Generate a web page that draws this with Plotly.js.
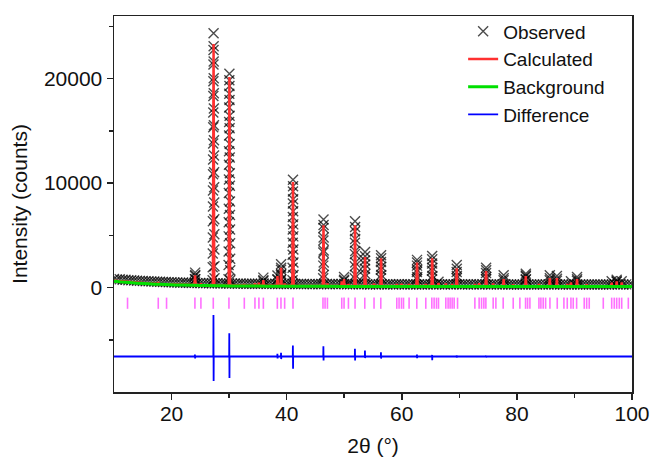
<!DOCTYPE html>
<html>
<head>
<meta charset="utf-8">
<script src="https://cdn.plot.ly/plotly-3.0.1.min.js"></script>
<style>html,body{margin:0;padding:0;background:#fff;}#chart{width:651px;height:457px;}</style>
</head>
<body>
<div id="chart"></div>
<script>
// ---- Observed: baseline points (2θ, counts)
const obsBase2Theta = [10,10.5,11,11.5,12,12.5,13,13.5,14,14.5,15,15.5,16,16.5,17,17.5,18,18.5,19,19.5,20,20.5,21,21.5,22,22.5,23,23.5,24,24.5,25,25.5,26,26.5,27,27.5,28,28.5,29,29.5,30,30.5,31,31.5,32,32.5,33,33.5,34,34.5,35,35.5,36,36.5,37,37.5,38,38.5,39,39.5,40,40.5,41,41.5,42,42.5,43,43.5,44,44.5,45,45.5,46,46.5,47,47.5,48,48.5,49,49.5,50,50.5,51,51.5,52,52.5,53,53.5,54,54.5,55,55.5,56,56.5,57,57.5,58,58.5,59,59.5,60,60.5,61,61.5,62,62.5,63,63.5,64,64.5,65,65.5,66,66.5,67,67.5,68,68.5,69,69.5,70,70.5,71,71.5,72,72.5,73,73.5,74,74.5,75,75.5,76,76.5,77,77.5,78,78.5,79,79.5,80,80.5,81,81.5,82,82.5,83,83.5,84,84.5,85,85.5,86,86.5,87,87.5,88,88.5,89,89.5,90,90.5,91,91.5,92,92.5,93,93.5,94,94.5,95,95.5,96,96.5,97,97.5,98,98.5,99,99.5,100];
const obsBaseCounts = [820,770,800,745,745,705,705,680,660,640,
630,605,600,575,570,555,550,525,525,510,
505,490,495,465,480,450,460,440,450,425,
445,415,425,405,415,400,410,390,405,385,
395,385,390,370,390,365,375,360,370,360,
367,355,385,345,355,345,355,350,375,340,
350,330,355,335,343,330,340,328,337,325,
335,322,333,330,340,315,333,312,330,330,
340,310,327,308,330,308,320,315,321,302,
320,302,320,310,315,302,313,300,325,315,
325,302,323,298,311,302,313,295,313,294,
315,302,311,305,310,302,313,295,317,310,
307,290,308,289,306,295,313,300,310,305,
310,290,313,288,305,298,307,286,303,290,
301,290,303,298,305,286,299,288,305,292,
305,298,310,292,313,286,299,288,301,302,
305,298,300,282,297,283,296,284,295,283,
298,282,295,284,310,298,317,295,305,282,
296];
// ---- Observed: points on the Bragg peaks
const obsPeak2Theta = [24.06,24.08,24.10,24.12,24.14,
27.14,27.15,27.16,27.17,27.18,27.19,27.20,27.21,27.22,27.23,27.24,27.25,27.26,27.27,27.28,27.29,27.30,27.31,27.32,27.33,27.34,27.35,27.36,27.37,27.38,27.39,27.40,27.41,27.42,27.43,27.44,27.45,27.46,
29.90,29.91,29.92,29.93,29.94,29.95,29.96,29.97,29.98,29.99,30.00,30.01,30.02,30.03,30.04,30.05,30.06,30.07,30.08,30.09,30.10,30.11,30.12,30.13,30.14,30.15,30.16,30.17,30.18,30.19,30.20,
35.94,35.95,35.96,38.39,38.40,38.41,39.00,39.01,39.02,39.03,39.04,39.05,39.06,
41.02,41.03,41.04,41.05,41.06,41.07,41.08,41.09,41.10,41.11,41.12,41.13,41.14,41.15,41.16,41.17,41.18,
46.35,46.36,46.37,46.38,46.39,46.40,46.41,46.42,46.43,46.44,46.45,
49.96,49.97,49.98,
51.83,51.84,51.85,51.86,51.87,51.88,51.89,51.90,51.91,51.92,51.93,
53.59,53.60,53.61,53.62,53.63,53.64,53.65,
56.37,56.38,56.39,56.40,56.41,56.42,56.43,
62.62,62.63,62.64,62.65,62.66,62.67,62.68,
65.25,65.26,65.27,65.28,65.29,65.30,65.31,66.38,
69.53,69.54,69.55,69.56,69.57,
74.63,74.64,74.65,74.66,74.67,
77.69,77.70,77.71,
81.53,81.54,81.55,81.56,81.57,
85.71,85.72,85.73,86.94,86.95,86.96,89.39,
90.44,90.45,90.46,96.47,97.33,97.34,97.35,98.21];
const obsPeakCounts = [800,1100,1430,1200,800,
700,1950,3250,4800,6350,7750,9300,10850,12250,13800,15350,16750,18350,19750,21350,22750,24350,23100,21650,20050,18600,17150,15550,14100,12650,11050,9600,8150,6550,5100,3650,2050,900,
800,2150,3450,4900,6250,7550,9050,10350,11750,13050,14550,15850,17250,18550,19850,20480,19300,17950,16450,15250,13750,12450,10950,9750,8250,6950,5550,4250,2750,1650,700,
600,950,700,750,1150,800,700,1200,1700,2230,1900,1300,800,
700,1900,3150,4300,5550,6750,8050,9200,10320,9700,8450,7300,6050,4900,3650,2400,1200,
900,2100,3350,4500,5700,6510,6000,4800,3550,2400,1200,
650,1020,750,
900,2050,3200,4300,5400,6350,5800,4650,3500,2400,1200,
1000,1800,2600,3400,3000,2200,1300,
900,1700,2450,3100,2800,2000,1200,
800,1500,2100,2650,2400,1700,1000,
800,1600,2300,3020,2700,1900,1100,550,
900,1500,2150,1800,1100,
800,1400,1900,1650,1000,
700,1180,900,
750,1050,1330,1150,800,
700,1180,900,650,1100,850,600,
650,1020,800,600,550,750,600,600];
// ---- Calculated profile
const calc2Theta = [10,12,14,16,17.6,17.69,17.78,20,22,23.97,24.08,24.19,25.02,25.10,25.18,27.18,27.30,27.42,29.93,30.05,30.17,32.56,32.64,32.72,34.41,34.49,34.57,35.10,35.18,35.26,35.86,35.95,36.04,38.30,38.40,38.50,38.93,39.03,39.13,39.57,39.65,39.73,40.98,41.10,41.22,46.28,46.40,46.52,47.00,47.08,47.16,49.48,49.57,49.66,49.88,49.97,50.06,50.65,50.73,50.81,51.77,51.88,51.99,53.51,53.62,53.73,55.10,55.18,55.26,56.29,56.40,56.51,59.05,59.13,59.21,59.87,59.95,60.03,61.19,61.27,61.35,62.54,62.65,62.76,64.09,64.17,64.25,65.17,65.28,65.39,66.30,66.38,66.46,67.57,67.65,67.73,68.67,68.75,68.83,69.45,69.55,69.65,72.62,72.70,72.78,73.36,73.44,73.52,74.55,74.65,74.75,75.80,75.88,75.96,77.61,77.70,77.79,79.28,79.36,79.44,81.46,81.55,81.64,83.75,83.83,83.91,85.64,85.72,85.80,86.87,86.95,87.03,88.67,88.75,88.83,89.31,89.39,89.47,90.37,90.45,90.53,92.04,92.12,92.20,96.39,96.47,96.55,97.26,97.34,97.42,98.13,98.21,98.29,100];
const calcCounts = [640,540,460,395,355,520,352,305,275,250,1180,249,240,400,239,220,23330,219,200,20160,200,190,330,189,183,420,183,181,460,180,178,700,178,172,1100,171,170,1900,169,168,400,168,166,10100,165,158,5970,157,156,380,156,153,600,153,152,800,152,151,350,151,150,5970,150,148,2920,148,146,400,146,145,2800,145,143,330,143,142,360,142,141,330,141,140,2400,140,139,330,139,138,2800,138,137,450,137,136,380,136,136,350,136,135,1850,135,133,330,133,133,420,133,132,1590,132,131,380,131,130,800,130,129,300,129,128,1110,128,127,330,127,126,900,126,125,900,125,124,330,124,124,500,124,123,800,123,122,300,122,121,480,121,120,600,120,120,500,120,120];
// ---- Background
const bg2Theta = [10,12,14,16,18,20,22,25,28,30,35,40,50,60,80,100];
const bgCounts = [600,500,420,355,305,265,235,200,175,160,140,125,110,100,95,90];
// ---- Difference (offset)
const diff2Theta = [10,24.03,24.06,24.10,24.13,27.26,27.28,27.31,27.33,30.01,30.03,30.06,30.08,38.37,38.39,38.42,38.44,39.00,39.02,39.05,39.07,41.06,41.08,41.11,41.13,46.36,46.38,46.41,46.43,51.84,51.86,51.89,51.91,53.58,53.60,53.63,53.65,56.36,56.38,56.41,56.43,62.62,62.64,62.66,62.68,65.25,65.27,65.29,65.31,69.52,69.54,69.56,69.58,74.62,74.64,74.66,74.68,81.52,81.54,81.56,81.58,100];
const diffCounts = [-6600,-6600,-6420,-6780,-6600,-6600,-2630,-8950,-6600,-6600,-4380,-8670,-6600,-6600,-6350,-6780,-6600,-6600,-6250,-6850,-6600,-6600,-5550,-7770,-6600,-6600,-5620,-6980,-6600,-6600,-5870,-6980,-6600,-6600,-6030,-6750,-6600,-6600,-6190,-6800,-6600,-6600,-6420,-6760,-6600,-6600,-6450,-6950,-6600,-6600,-6480,-6720,-6600,-6600,-6500,-6700,-6600,-6600,-6520,-6690,-6600,-6600];
// ---- Bragg reflection positions
const hkl2Theta = [12.35,17.69,19.13,24.06,25.10,27.25,29.97,32.64,34.49,35.18,35.95,38.38,39.01,39.65,41.10,46.31,46.67,47.08,49.57,49.97,50.73,51.88,53.57,55.18,56.35,59.13,59.53,59.95,60.30,61.27,62.61,64.17,65.22,65.62,66.03,66.38,67.65,68.05,68.40,68.75,69.10,69.69,72.70,73.44,73.86,74.26,74.61,75.88,76.35,77.62,79.36,80.52,81.51,81.86,82.26,83.83,84.17,84.57,84.99,85.74,87.01,88.17,88.75,89.39,89.79,90.38,91.70,92.12,92.57,95.01,96.47,96.92,97.34,97.79,98.21,99.36];
// ---- Tick labels
const xTicks = [20,40,60,80,100];
const xMinor = [30,50,70,90];
const yTicks = [0,10000,20000];
const yTickText = ['0','10000','20000'];
const yMinor = [-5000,5000,15000,25000];

const FONT = 'Liberation Sans, Arial, sans-serif';
const traces = [
  {name:'Observed', type:'scatter', mode:'markers',
   x: obsBase2Theta.concat(obsPeak2Theta), y: obsBaseCounts.concat(obsPeakCounts),
   marker:{symbol:'x-thin-open', size:10, color:'rgba(0,0,0,0.7)', line:{width:1.4, color:'rgba(0,0,0,0.7)'}}},
  {name:'Calculated', type:'scatter', mode:'lines', x: calc2Theta, y: calcCounts,
   line:{color:'#ff3030', width:2.5}},
  {name:'Background', type:'scatter', mode:'lines', x: bg2Theta, y: bgCounts,
   line:{color:'#00e000', width:3, shape:'spline'}},
  {name:'Difference', type:'scatter', mode:'lines', x: diff2Theta, y: diffCounts,
   line:{color:'#0000ff', width:1.8}},
  {name:'hkl', type:'scatter', mode:'markers', showlegend:false,
   x: hkl2Theta, y: hkl2Theta.map(() => -1500),
   marker:{symbol:'line-ns-open', size:8, color:'#ff70ff', line:{width:1.6, color:'#ff70ff'}}}
];
const axisCommon = {showline:true, mirror:true, linewidth:1.5, linecolor:'#222', ticks:'outside',
  ticklen:6, tickwidth:1.5, tickcolor:'#222', showgrid:false, zeroline:false, automargin:false,
  tickfont:{family:FONT, size:21, color:'#111'}};
const layout = {
  width:651, height:457, paper_bgcolor:'#fff', plot_bgcolor:'#fff',
  margin:{l:114, r:19, t:14, b:65},
  showlegend:true,
  legend:{x:0.674, y:1.0096, xanchor:'left', yanchor:'top', bgcolor:'rgba(0,0,0,0)',
    font:{family:FONT, size:19, color:'#111'}, tracegroupgap:0},
  xaxis: Object.assign({}, axisCommon, {range:[10,100], tickmode:'array', tickvals:xTicks,
    ticklabelstandoff:-4,
    minor:{tickmode:'array', tickvals:xMinor, ticks:'outside', ticklen:4, tickwidth:1.5, tickcolor:'#222', showgrid:false},
    title:{text:'2θ (°)', standoff:14, font:{family:FONT, size:21, color:'#111'}}}),
  yaxis: Object.assign({}, axisCommon, {range:[-10000,26000], tickmode:'array', tickvals:yTicks, ticktext:yTickText,
    minor:{tickmode:'array', tickvals:yMinor, ticks:'outside', ticklen:4, tickwidth:1.5, tickcolor:'#222', showgrid:false},
    title:{text:'Intensity (counts)', standoff:10, font:{family:FONT, size:21, color:'#111'}}})
};
Plotly.newPlot('chart', traces, layout, {staticPlot:true, displayModeBar:false});
</script>
</body>
</html>
